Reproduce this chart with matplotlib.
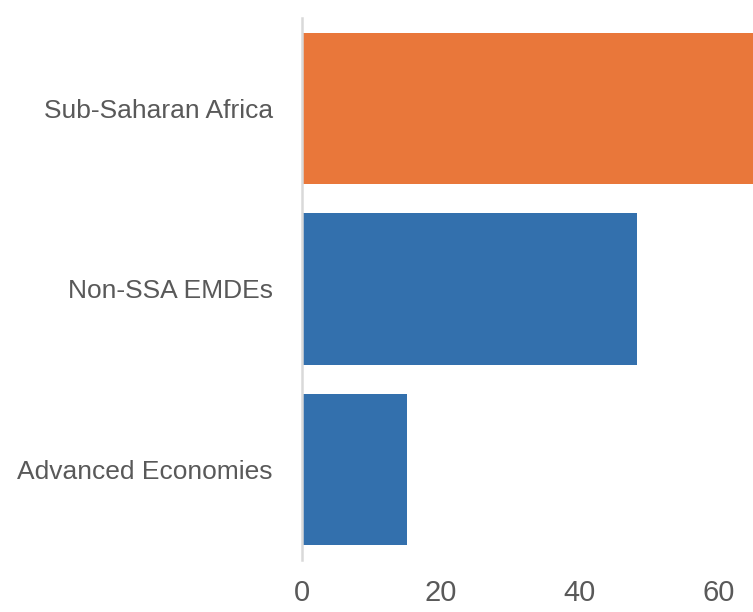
import matplotlib.pyplot as plt
from matplotlib import font_manager

categories = ["Advanced Economies", "Non-SSA EMDEs", "Sub-Saharan Africa"]
values = [15.1, 48.3, 66.0]
bar_colors = ["#3370AD", "#3370AD", "#E9773A"]
x_ticks = [0, 20, 40, 60]

names = {f.name for f in font_manager.fontManager.ttflist}
family = "Liberation Sans Narrow" if "Liberation Sans Narrow" in names else "Liberation Sans"
plt.rcParams["font.family"] = [family, "DejaVu Sans"]

fig = plt.figure(figsize=(7.53, 6.12), dpi=100)
ax = fig.add_axes([0.401, 0.085, 0.599, 0.8856])

ax.barh(range(len(categories)), values, height=0.837, color=bar_colors)

ax.set_xlim(0, 65)
ax.set_ylim(-0.5, 2.5)
ax.set_yticks(range(len(categories)))
ax.set_yticklabels(categories)
ax.set_xticks(x_ticks)

for side in ["top", "right", "bottom"]:
    ax.spines[side].set_visible(False)
ax.spines["left"].set_color("#d9d9d9")
ax.spines["left"].set_linewidth(1.8)

ax.tick_params(axis="y", length=0, pad=21, labelsize=19, labelcolor="#595959")
ax.tick_params(axis="x", length=0, pad=14, labelsize=21, labelcolor="#595959")

fig.savefig("out.png", dpi=100)
